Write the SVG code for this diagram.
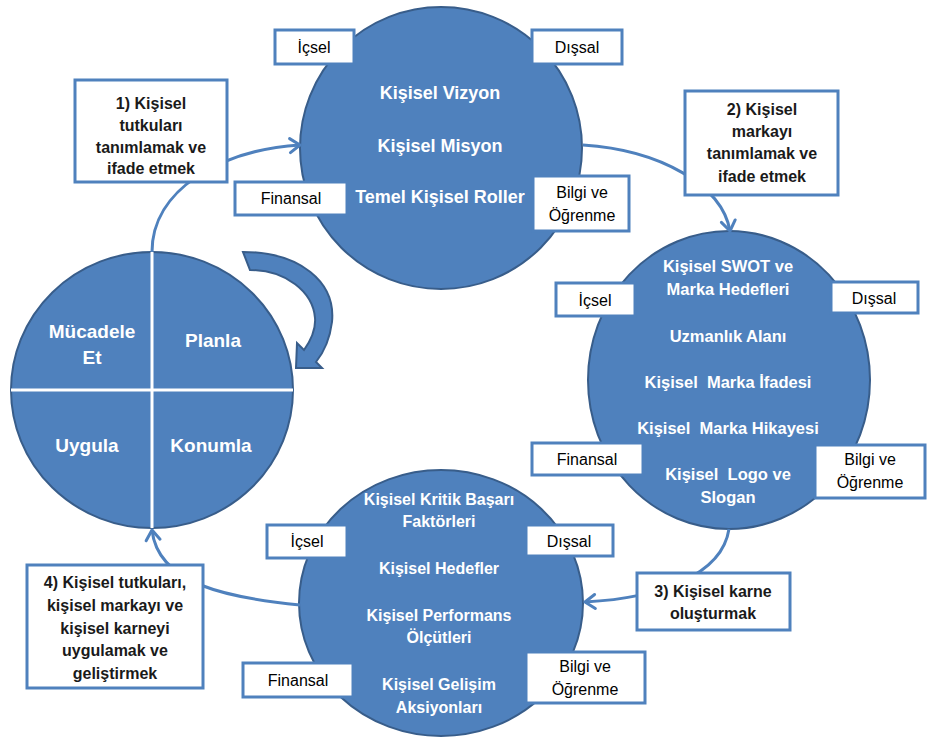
<svg xmlns="http://www.w3.org/2000/svg" width="928" height="742" viewBox="0 0 928 742">
<style>
.circ{fill:#4F81BD;stroke:#385D8A;stroke-width:2}
.ct{font-family:"Liberation Sans",Arial,sans-serif;font-weight:bold;fill:#fff;text-anchor:middle}
.box{fill:#fff;stroke:#4F81BD;stroke-width:3}
.bt{font-family:"Liberation Sans",Arial,sans-serif;font-size:16px;fill:#000;text-anchor:middle}
.nb{font-family:"Liberation Sans",Arial,sans-serif;font-size:16px;font-weight:bold;fill:#1a1a1a;text-anchor:middle}
.conn{fill:none;stroke:#4F81BD;stroke-width:3}
.div{stroke:#fff;stroke-width:3}
</style>
<defs>
<marker id="arr" markerUnits="userSpaceOnUse" viewBox="-14 -10 16 20" refX="0" refY="0" markerWidth="16" markerHeight="20" orient="auto">
<path d="M -10,-7 L 0,0 L -10,7" fill="none" stroke="#4F81BD" stroke-width="3" stroke-linecap="round" stroke-linejoin="round"/>
</marker>
</defs>
<rect width="928" height="742" fill="#fff"/>

<g id="cycle">
<ellipse class="circ" cx="152" cy="390" rx="141" ry="138"/>
<line class="div" x1="152" y1="252" x2="152" y2="528"/>
<line class="div" x1="11" y1="390" x2="293" y2="390"/>
<text class="ct" font-size="19" x="92" y="338">Mücadele</text>
<text class="ct" font-size="19" x="92" y="364">Et</text>
<text class="ct" font-size="19" x="213" y="347">Planla</text>
<text class="ct" font-size="19" x="87" y="452">Uygula</text>
<text class="ct" font-size="19" x="211" y="452">Konumla</text>
<path class="circ" d="M 243,252 C 300,252 336,282 332,322 C 330,338 324,352 316,362 L 322,368 L 296,368 L 297,343 L 304,350 C 311,340 316,330 315,318 C 313,292 286,270 250,270 Z"/>
</g>

<g id="top">
<circle class="circ" cx="441" cy="148" r="141"/>
<text class="ct" font-size="18" x="440" y="99">Kişisel Vizyon</text>
<text class="ct" font-size="18" x="440" y="152">Kişisel Misyon</text>
<text class="ct" font-size="18" x="440" y="203">Temel Kişisel Roller</text>
</g>

<g id="right">
<ellipse class="circ" cx="729" cy="380" rx="141" ry="149"/>
<text class="ct" font-size="16.5" x="728" y="272">Kişisel SWOT ve</text>
<text class="ct" font-size="16.5" x="728" y="295">Marka Hedefleri</text>
<text class="ct" font-size="16.5" x="728" y="342">Uzmanlık Alanı</text>
<text class="ct" font-size="16.5" x="728" y="388" xml:space="preserve">Kişisel  Marka İfadesi</text>
<text class="ct" font-size="16.5" x="728" y="434" xml:space="preserve">Kişisel  Marka Hikayesi</text>
<text class="ct" font-size="16.5" x="728" y="480" xml:space="preserve">Kişisel  Logo ve</text>
<text class="ct" font-size="16.5" x="728" y="503">Slogan</text>
</g>

<g id="bottom">
<ellipse class="circ" cx="441" cy="603" rx="142" ry="133"/>
<text class="ct" font-size="16" x="439" y="505">Kişisel Kritik Başarı</text>
<text class="ct" font-size="16" x="439" y="527">Faktörleri</text>
<text class="ct" font-size="16" x="439" y="574">Kişisel Hedefler</text>
<text class="ct" font-size="16" x="439" y="621">Kişisel Performans</text>
<text class="ct" font-size="16" x="439" y="643">Ölçütleri</text>
<text class="ct" font-size="16" x="439" y="690">Kişisel Gelişim</text>
<text class="ct" font-size="16" x="439" y="713">Aksiyonları</text>
</g>

<g id="connectors">
<path class="conn" d="M 152,252 C 152,190 220,150 300,145" marker-end="url(#arr)"/>
<path class="conn" d="M 583,145 C 660,150 722,185 730,231" marker-end="url(#arr)"/>
<path class="conn" d="M 729,529 C 722,575 660,598 585,602" marker-end="url(#arr)"/>
<path class="conn" d="M 300,605 C 230,598 158,585 152,530" marker-end="url(#arr)"/>
</g>

<g id="step1">
<rect class="box" x="75" y="80" width="152" height="102"/>
<text class="nb" x="151" y="109">1) Kişisel</text>
<text class="nb" x="151" y="131">tutkuları</text>
<text class="nb" x="151" y="153">tanımlamak ve</text>
<text class="nb" x="151" y="174">ifade etmek</text>
</g>
<g id="step2">
<rect class="box" x="685" y="91" width="153" height="104"/>
<text class="nb" x="762" y="115">2) Kişisel</text>
<text class="nb" x="762" y="137">markayı</text>
<text class="nb" x="762" y="159">tanımlamak ve</text>
<text class="nb" x="762" y="182">ifade etmek</text>
</g>
<g id="step3">
<rect class="box" x="637" y="573" width="153" height="57"/>
<text class="nb" x="713" y="597">3) Kişisel karne</text>
<text class="nb" x="713" y="619">oluşturmak</text>
</g>
<g id="step4">
<rect class="box" x="27" y="565" width="176" height="123"/>
<text class="nb" x="115" y="588">4) Kişisel tutkuları,</text>
<text class="nb" x="115" y="611">kişisel markayı ve</text>
<text class="nb" x="115" y="634">kişisel karneyi</text>
<text class="nb" x="115" y="656">uygulamak ve</text>
<text class="nb" x="115" y="679">geliştirmek</text>
</g>

<g id="top-tags">
<rect class="box" x="275" y="30" width="79" height="34"/>
<text class="bt" x="314" y="53">İçsel</text>
<rect class="box" x="532" y="30" width="90" height="34"/>
<text class="bt" x="577" y="53">Dışsal</text>
<rect class="box" x="235" y="182" width="112" height="33"/>
<text class="bt" x="291" y="204">Finansal</text>
<rect class="box" x="533" y="176" width="96" height="55"/>
<text class="bt" x="582" y="198">Bilgi ve</text>
<text class="bt" x="582" y="221">Öğrenme</text>
</g>

<g id="right-tags">
<rect class="box" x="556" y="283" width="79" height="33"/>
<text class="bt" x="595" y="306">İçsel</text>
<rect class="box" x="831" y="282" width="87" height="31"/>
<text class="bt" x="874" y="304">Dışsal</text>
<rect class="box" x="532" y="443" width="111" height="32"/>
<text class="bt" x="587" y="465">Finansal</text>
<rect class="box" x="815" y="445" width="110" height="53"/>
<text class="bt" x="870" y="465">Bilgi ve</text>
<text class="bt" x="870" y="488">Öğrenme</text>
</g>

<g id="bottom-tags">
<rect class="box" x="267" y="525" width="80" height="33"/>
<text class="bt" x="307" y="547">İçsel</text>
<rect class="box" x="526" y="525" width="87" height="31"/>
<text class="bt" x="569" y="547">Dışsal</text>
<rect class="box" x="243" y="663" width="110" height="34"/>
<text class="bt" x="298" y="686">Finansal</text>
<rect class="box" x="526" y="652" width="119" height="51"/>
<text class="bt" x="585" y="672">Bilgi ve</text>
<text class="bt" x="585" y="695">Öğrenme</text>
</g>
</svg>
